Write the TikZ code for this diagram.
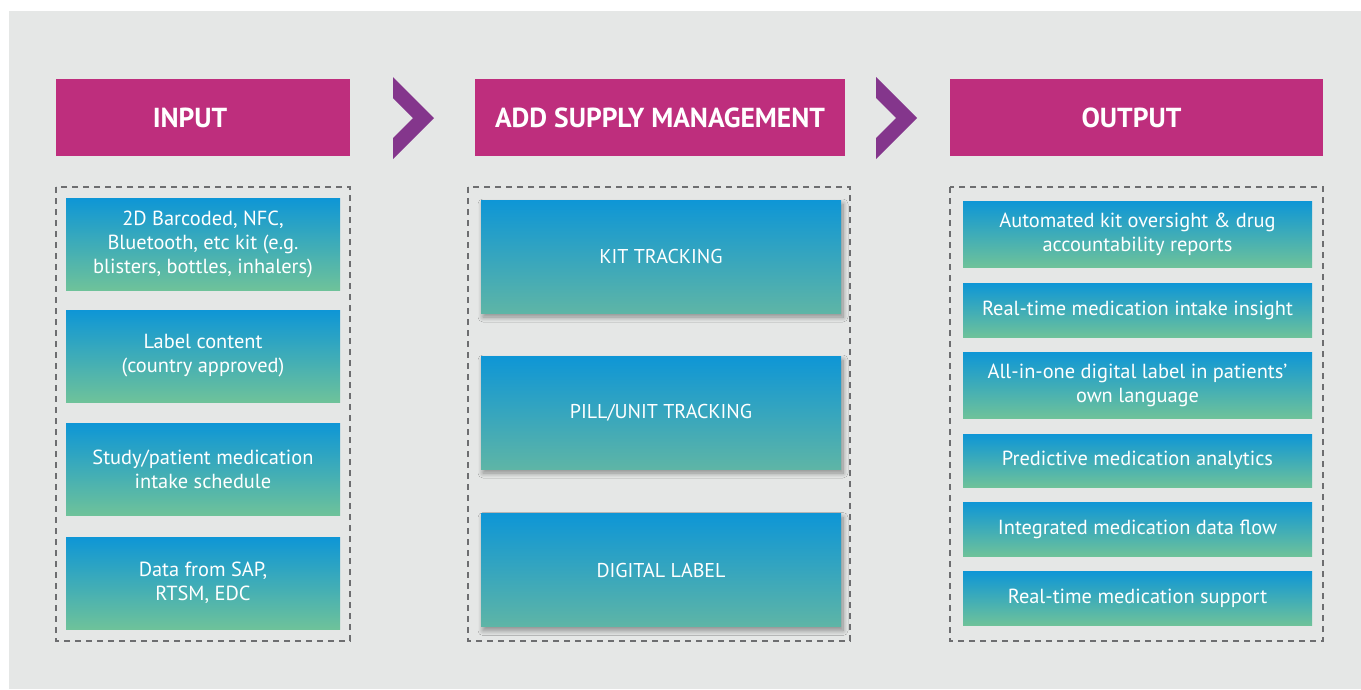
\documentclass[tikz,border=0pt]{standalone}
\usepackage{fontspec}
\setmainfont{PT Sans}
\usepackage{tikz}
\usetikzlibrary{shadows.blur}

\definecolor{bgGray}{HTML}{E5E7E6}
\definecolor{headMagenta}{HTML}{BE2E7D}
\definecolor{arrowPurple}{HTML}{84368C}
\definecolor{boxBlue}{HTML}{0E96D6}
\definecolor{boxGreen}{HTML}{6EC29A}
\definecolor{boxTeal}{HTML}{5EB5A6}
\definecolor{dashGray}{HTML}{6D6E70}

\tikzset{
  header/.style={fill=headMagenta, text=white, inner sep=0pt,
    minimum height=77pt, font=\fontsize{27.5}{30}\selectfont\bfseries},
  frame/.style={draw=dashGray, line width=2pt, dash pattern=on 6pt off 5pt},
  chevron/.style={fill=arrowPurple},
  gradbox/.style={top color=boxBlue, bottom color=boxGreen, text=white,
    align=center, inner sep=0pt, font=\fontsize{20.4}{24}\selectfont},
  inbox/.style={gradbox, minimum width=274pt, minimum height=92pt},
  trackbox/.style={gradbox, bottom color=boxTeal, minimum width=360pt,
    minimum height=113pt, font=\fontsize{20}{24}\selectfont,
    blur shadow={shadow xshift=2pt, shadow yshift=-4pt,
      shadow blur radius=5pt, shadow blur steps=10, shadow opacity=40}},
  outbox/.style={gradbox, minimum width=349pt}
}

\begin{document}
\begin{tikzpicture}[x=1pt, y=-1pt]
\useasboundingbox (0,0) rectangle (1361,689);
\fill[bgGray] (9,11) rectangle (1361,689);

% Headers
\node[header, minimum width=294pt] (hin) at (203,117.5) {\hspace*{-26pt}INPUT};
\node[header, minimum width=370pt] (hsup) at (660,117.5) {ADD SUPPLY MANAGEMENT};
\node[header, minimum width=373pt] (hout) at (1136.5,117.5) {\hspace*{-10pt}OUTPUT};

% Chevrons
\fill[chevron] (393,77) -- (434,118) -- (393,159) -- (393,138) -- (413,118) -- (393,98) -- cycle;
\fill[chevron] (876,77) -- (917,118) -- (876,159) -- (876,138) -- (896,118) -- (876,98) -- cycle;

% Dashed frames
\draw[frame] (56,187) rectangle (350,641);
\draw[frame] (468,187) rectangle (850,641);
\draw[frame] (950,187) rectangle (1323,641);

% Input column
\node[inbox] (in1) at (203,244) {2D Barcoded, NFC,\\Bluetooth, etc kit (e.g.\\blisters, bottles, inhalers)};
\node[inbox] (in2) at (203,356) {Label content\\(country approved)};
\node[inbox] (in3) at (203,469) {Study/patient medication\\intake schedule};
\node[inbox] (in4) at (203,583) {Data from SAP,\\RTSM, EDC};

% Supply management column
\node[trackbox] (kit) at (661,256.5) {KIT TRACKING};
\node[trackbox] (pill) at (661,412.5) {PILL/UNIT TRACKING};
\node[trackbox] (dlabel) at (661,570) {DIGITAL LABEL};

% Output column
\node[outbox, minimum height=66pt] (out1) at (1137.5,234) {Automated kit oversight \& drug\\accountability reports};
\node[outbox, minimum height=54pt] (out2) at (1137.5,310) {Real-time medication intake insight};
\node[outbox, minimum height=66pt] (out3) at (1137.5,385) {All-in-one digital label in patients’\\own language};
\node[outbox, minimum height=53pt] (out4) at (1137.5,460.5) {Predictive medication analytics};
\node[outbox, minimum height=54pt] (out5) at (1137.5,529) {Integrated medication data flow};
\node[outbox, minimum height=54pt] (out6) at (1137.5,598) {Real-time medication support};
\end{tikzpicture}
\end{document}
